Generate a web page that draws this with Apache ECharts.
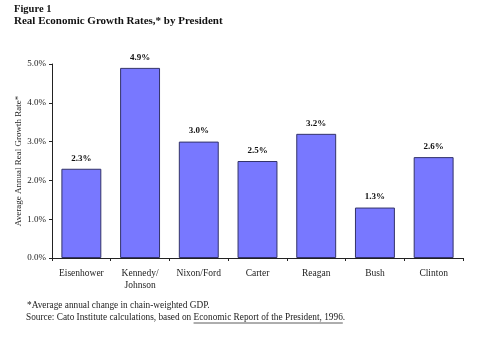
<!DOCTYPE html>
<html><head><meta charset="utf-8">
<script src="https://cdn.jsdelivr.net/npm/echarts@6/dist/echarts.min.js"></script>
<style>html,body{margin:0;padding:0;background:#fff}#c{width:492px;height:346px}</style>
</head><body><div id="c"></div>
<script>
const categories = ['Eisenhower', 'Kennedy/\nJohnson', 'Nixon/Ford', 'Carter', 'Reagan', 'Bush', 'Clinton'];
const growthRates = [2.3, 4.9, 3.0, 2.5, 3.2, 1.3, 2.6];
const yTicks = { min: 0, max: 5, interval: 1 };

const serif = '"Liberation Serif", "DejaVu Serif", serif';
const footFont = '9.3px ' + serif;
const srcPre = 'Source: Cato Institute calculations, based on ';
const srcRef = 'Economic Report of the President, 1996';
const ctx = document.createElement('canvas').getContext('2d');
ctx.font = footFont;
const preW = ctx.measureText(srcPre).width;
const refW = ctx.measureText(srcRef).width;
const srcX = 26, srcY = 313;

const chart = echarts.init(document.getElementById('c'));
chart.setOption({
  backgroundColor: '#fff',
  animation: false,
  grid: { left: 52, top: 64, right: 29, bottom: 88 },
  xAxis: {
    type: 'category',
    data: categories,
    axisLine: { lineStyle: { color: '#222', width: 1 } },
    axisTick: { show: true, length: 3, lineStyle: { color: '#222' } },
    axisLabel: { color: '#222', fontFamily: serif, fontSize: 9.5, margin: 9, lineHeight: 12, interval: 0 }
  },
  yAxis: {
    type: 'value',
    min: yTicks.min, max: yTicks.max, interval: yTicks.interval,
    name: 'Average Annual Real Growth Rate*',
    nameLocation: 'middle',
    nameGap: 29,
    nameMoveOverlap: false,
    nameTextStyle: { color: '#222', fontFamily: serif, fontSize: 9 },
    splitLine: { show: false },
    axisLine: { show: true, lineStyle: { color: '#222', width: 1 } },
    axisTick: { show: true, length: 3, lineStyle: { color: '#222' } },
    axisLabel: { color: '#222', fontFamily: serif, fontSize: 9, margin: 6, formatter: v => v.toFixed(1) + '%' }
  },
  series: [{
    type: 'bar',
    data: growthRates,
    barWidth: '68%',
    itemStyle: { color: '#7878FF', borderColor: '#33336a', borderWidth: 1 },
    label: {
      show: true, position: 'top', distance: 6,
      fontFamily: serif, fontSize: 9, fontWeight: 'bold', color: '#111',
      formatter: p => p.value.toFixed(1) + '%'
    }
  }],
  graphic: [
    { type: 'text', left: 14, top: 4, style: { text: 'Figure 1', font: 'bold 10.5px ' + serif, fill: '#111' } },
    { type: 'text', left: 14, top: 16, style: { text: 'Real Economic Growth Rates,* by President', font: 'bold 11px ' + serif, fill: '#111' } },
    { type: 'text', left: 27, top: 301, style: { text: '*Average annual change in chain-weighted GDP.', font: footFont, fill: '#222' } },
    { type: 'text', left: srcX, top: srcY, style: { text: srcPre + srcRef + '.', font: footFont, fill: '#222' } },
    { type: 'line', shape: { x1: srcX + preW, y1: srcY + 10, x2: srcX + preW + refW, y2: srcY + 10 }, style: { stroke: '#333', lineWidth: 0.8 } }
  ]
});
</script></body></html>
